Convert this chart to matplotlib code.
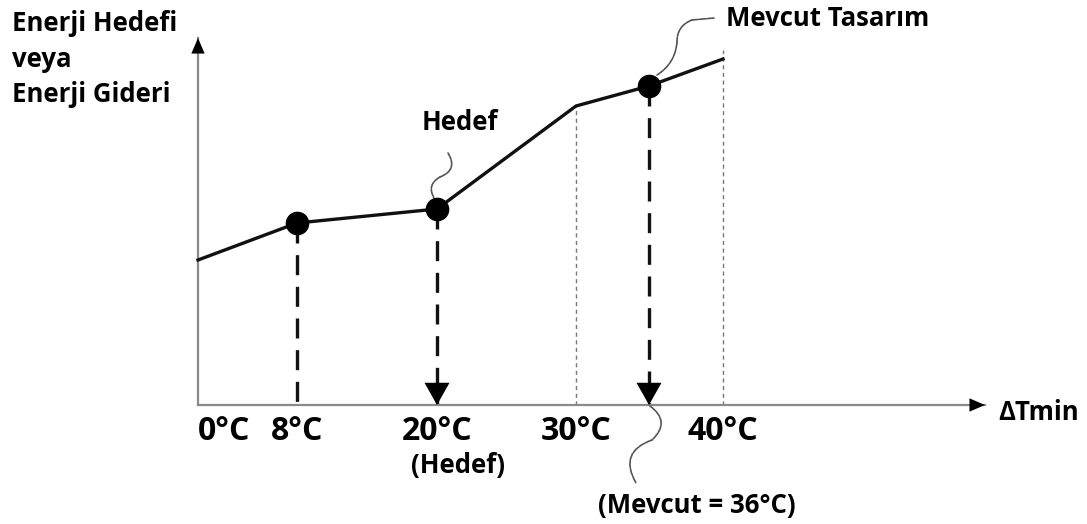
import numpy as np
import matplotlib
matplotlib.use('Agg')
import matplotlib.pyplot as plt

# ---------------- data ----------------
temps = [0, 8, 20, 30, 36, 40]            # ΔTmin (°C)
energy = [145, 182, 196, 299, 319, 346]   # energy target / cost (arbitrary units)
marked_temps = [8, 20, 36]
marked_energy = [182, 196, 319]
arrow_temps = [20, 36]
guide_temps = [30, 40]
guide_tops = [299, 355]
tick_temps = [0, 8, 20, 30, 40]
tick_labels = ['0°C', '8°C', '20°C', '30°C', '40°C']

# schematic, non-linear layout of the ΔTmin axis (degrees -> drawing units)
scale_deg = [0, 8, 20, 30, 36, 40, 100]
scale_pos = [0, 99, 239, 378, 451, 525, 525 + 60 * 14.7]

def fwd(x):
    return np.interp(x, scale_deg, scale_pos)

def inv(p):
    return np.interp(p, scale_pos, scale_deg)

plt.rcParams['font.family'] = ['Open Sans', 'DejaVu Sans']
W, H = 1087, 524
fig = plt.figure(figsize=(W / 100, H / 100), dpi=100)

ax_l, ax_b, ax_r, ax_t = 198, 405, 985, 38
ax = fig.add_axes([ax_l / W, 1 - ax_b / H, (ax_r - ax_l) / W, (ax_b - ax_t) / H])
ax.set_xscale('function', functions=(fwd, inv))
ax.set_xlim(0, inv(ax_r - ax_l))
ax.set_ylim(0, ax_b - ax_t)

axis_grey = '#8a8a8a'
for s in ['top', 'right']:
    ax.spines[s].set_visible(False)
for s in ['left', 'bottom']:
    ax.spines[s].set_color(axis_grey)
    ax.spines[s].set_linewidth(1.6)

# axis arrow heads
for xy, xyt in [((1.0, 0), (0.98, 0)), ((0, 1.0), (0, 0.97))]:
    ax.annotate('', xy=xy, xycoords='axes fraction', xytext=xyt,
                arrowprops=dict(arrowstyle='-|>,head_length=0.7,head_width=0.3',
                                color='black', lw=0, mutation_scale=16,
                                shrinkA=0, shrinkB=0), annotation_clip=False)

# ticks
ax.set_xticks(tick_temps)
ax.set_xticklabels(tick_labels, fontsize=23, fontweight='bold')
ax.tick_params(axis='x', length=0, pad=7)
lbl0 = ax.get_xticklabels()[0]
lbl0.set_horizontalalignment('left')
ax.set_yticks([])

# thin grey guides
for t, top in zip(guide_temps, guide_tops):
    ax.plot([t, t], [0, top], ls=(0, (3, 2.5)), lw=1.0, color='#7a7a7a', zorder=1)

# dashed drops
for t, e in zip(marked_temps, marked_energy):
    ax.plot([t, t], [e, 0], ls=(0, (6, 3.5)), lw=2.4, color='#111111', zorder=2)

# arrow heads on drops
for t in arrow_temps:
    ax.annotate('', xy=(t, 0), xytext=(t, 24),
                arrowprops=dict(arrowstyle='-|>,head_length=0.8,head_width=0.45',
                                color='black', lw=0, mutation_scale=20,
                                shrinkA=0, shrinkB=0))

# main curve
ax.plot(temps, energy, color='#111111', lw=2.4, zorder=3, clip_on=False)
ax.plot(marked_temps, marked_energy, 'o', ms=16, color='black', zorder=4)

def fx(px):
    return px / W

def fy(py):
    return 1 - py / H

# texts
for txt, base in [('Enerji Hedefi', 31), ('veya', 67), ('Enerji Gideri', 102)]:
    fig.text(fx(12), fy(base), txt, fontsize=18.5, fontweight='bold',
             ha='left', va='baseline')
fig.text(fx(998), fy(413), 'ΔTmin', fontsize=18.5, fontweight='bold',
         ha='left', va='center')
fig.text(fx(458), fy(465), '(Hedef)', fontsize=18.5, fontweight='bold',
         ha='center', va='center')
fig.text(fx(697), fy(506), '(Mevcut = 36°C)', fontsize=18.5, fontweight='bold',
         ha='center', va='center')
fig.text(fx(726), fy(18), 'Mevcut Tasarım', fontsize=18.5, fontweight='bold',
         ha='left', va='center')
fig.text(fx(460), fy(122), 'Hedef', fontsize=18.5, fontweight='bold',
         ha='center', va='center')

# squiggly leaders (figure pixel coordinates, origin top-left converted)
lead = dict(arrowstyle='-', color='#555555', lw=1.2, ls=(0, (4, 0.8)),
            shrinkA=0, shrinkB=0)

def leader(p0, p1, rad):
    ax.annotate('', xy=(p1[0], H - p1[1]), xycoords='figure pixels',
                xytext=(p0[0], H - p0[1]), textcoords='figure pixels',
                arrowprops=dict(connectionstyle=f'arc3,rad={rad}', **lead),
                annotation_clip=False)

# Mevcut Tasarım
leader((714, 18), (692, 20), 0.0)
leader((692, 20), (677, 42), 0.35)
leader((677, 42), (657, 75), -0.25)
# Hedef
leader((448, 153), (440, 177), -0.6)
leader((440, 177), (434, 198), 0.5)
# Mevcut = 36°C
leader((650, 406), (652, 440), -0.6)
leader((652, 440), (636, 483), 0.6)

fig.savefig('out.png', dpi=100)
